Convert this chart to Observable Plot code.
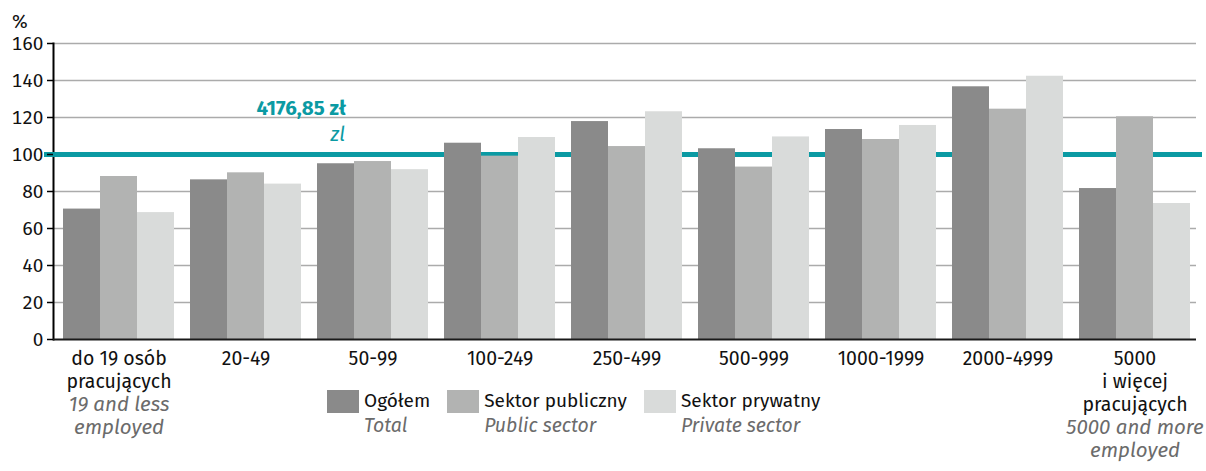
<!DOCTYPE html>
<html>
<head>
<meta charset="utf-8">
<script src="https://cdn.jsdelivr.net/npm/d3@7"></script>
<script src="https://cdn.jsdelivr.net/npm/@observablehq/plot@0.6"></script>
<style>
  html, body { margin: 0; padding: 0; background: #fff; }
  body { font-family: "Fira Sans", "Open Sans", sans-serif; }
  #wrap { position: relative; width: 1206px; height: 471px; overflow: hidden; }
  #unit { position: absolute; left: 12px; top: 10px; font-size: 19px; color: #111; }
  #legend { position: absolute; left: 327px; top: 388px; display: flex; gap: 17px; font-size: 19px; }
  .item { display: flex; align-items: flex-start; gap: 5px; }
  .sw { width: 32px; height: 23px; margin-top: 2px; }
  .pl { color: #111; line-height: 25px; }
  .en { color: #6b6b6b; font-style: italic; line-height: 25px; font-size: 19.5px; }
</style>
</head>
<body>
<div id="wrap">
  <div id="chart"></div>
  <div id="unit">%</div>
  <div id="legend"></div>
</div>
<script>
// ---- data ----
const categories = ["do 19 osób\npracujących", "20-49", "50-99", "100-249", "250-499", "500-999", "1000-1999", "2000-4999", "5000\ni więcej\npracujących"];
const categoriesEn = ["19 and less\nemployed", "", "", "", "", "", "", "", "5000 and more\nemployed"];
const series = ["Ogółem", "Sektor publiczny", "Sektor prywatny"];
const seriesEn = ["Total", "Public sector", "Private sector"];
const ogolem    = [70.5, 86.3, 95.0, 106.1, 117.8, 103.1, 113.5, 136.6, 81.6];
const publiczny = [88.1, 90.1, 96.2, 99.1, 104.3, 93.2, 108.1, 124.5, 120.4];
const prywatny  = [68.6, 84.0, 91.8, 109.2, 123.1, 109.5, 115.7, 142.3, 73.5];
const yTicks = [0, 20, 40, 60, 80, 100, 120, 140, 160];
const referenceValue = 100;
const referenceLabel = "4176,85 zł";
const referenceLabelEn = "zl";
const colors = ["#8a8a8a", "#b2b3b2", "#d9dbda"];

// ---- build table ----
const valuesBySeries = [ogolem, publiczny, prywatny];
const rows = [];
categories.forEach((c, i) => series.forEach((s, j) => rows.push({cat: c, series: s, value: valuesBySeries[j][i]})));
const catRows = categories.map((c, i) => ({cat: c, en: categoriesEn[i], n: c.split("\n").length}));
const lineCounts = Array.from(new Set(catRows.map(d => d.n)));

const teal = "#0b9aa3";
const lh = 23;

const marks = [
  Plot.gridY(yTicks.filter(v => v > 0), {stroke: "#ababab", strokeOpacity: 1, strokeWidth: 1.3}),
  Plot.frame({anchor: "left", facetAnchor: "left", stroke: "#000", strokeWidth: 2}),
  Plot.ruleY(catRows, {fx: "cat", y: () => referenceValue, stroke: teal, strokeWidth: 5}),
  Plot.ruleY(catRows.slice(0, 1), {fx: "cat", y: () => referenceValue, stroke: teal, strokeWidth: 5, insetLeft: -9}),
  Plot.ruleY(catRows.slice(-1), {fx: "cat", y: () => referenceValue, stroke: teal, strokeWidth: 5, insetRight: -6}),
  Plot.barY(rows, {fx: "cat", x: "series", y: "value", fill: "series"}),
  Plot.ruleY([0], {stroke: "#1a1a1a", strokeWidth: 2}),
  Plot.axisY({ticks: yTicks, tickSize: 6, tickPadding: 4, fontSize: 19, label: null, stroke: "#000", fill: "#111", strokeWidth: 1.5}),
  Plot.text(catRows, {fx: "cat", x: () => series[1], text: "cat", frameAnchor: "bottom", lineAnchor: "top", dy: 9, fontSize: 19.5, lineHeight: lh / 19.5, fill: "#111"}),
  ...lineCounts.map(n => Plot.text(catRows.filter(d => d.n === n && d.en), {fx: "cat", x: () => series[1], text: "en", frameAnchor: "bottom", lineAnchor: "top", dy: 9 + n * lh, fontSize: 20.5, lineHeight: lh / 20.5, fill: "#6b6b6b", fontStyle: "italic"})),
  Plot.text(catRows.filter(d => d.cat === categories[2]), {fx: "cat", x: () => series[0], y: () => referenceValue, text: () => referenceLabel, textAnchor: "end", dx: 10, dy: -46, fontSize: 20.5, fontWeight: "bold", fill: teal}),
  Plot.text(catRows.filter(d => d.cat === categories[2]), {fx: "cat", x: () => series[0], y: () => referenceValue, text: () => referenceLabelEn, textAnchor: "end", dx: 9, dy: -20, fontSize: 20, fontStyle: "italic", fill: teal})
];

const chart = Plot.plot({
  width: 1206,
  height: 471,
  marginTop: 43,
  marginBottom: 132,
  marginLeft: 53,
  marginRight: 10,
  style: {fontFamily: "'Fira Sans', 'Open Sans', sans-serif", fontSize: "19px", color: "#111", background: "#fff"},
  fx: {domain: categories, paddingInner: 0, paddingOuter: 0, axis: null, label: null},
  x: {domain: series, paddingInner: 0, paddingOuter: 8 / 37, align: 0.625, axis: null, label: null},
  y: {domain: [0, 160], axis: null, label: null},
  color: {domain: series, range: colors},
  marks
});
document.getElementById("chart").appendChild(chart);

// ---- legend (HTML) ----
const legend = d3.select("#legend");
series.forEach((s, i) => {
  const item = legend.append("div").attr("class", "item");
  item.append("div").attr("class", "sw").style("background", colors[i]);
  const t = item.append("div");
  t.append("div").attr("class", "pl").text(s);
  t.append("div").attr("class", "en").text(seriesEn[i]);
});
</script>
</body>
</html>
